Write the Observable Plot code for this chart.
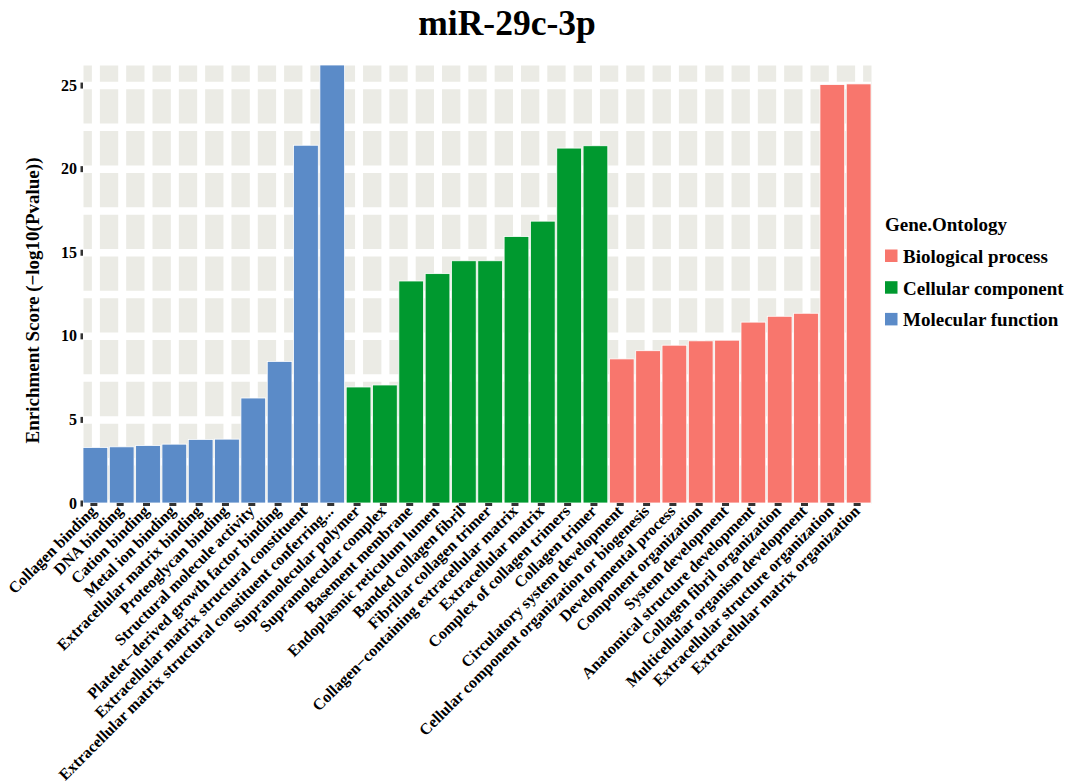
<!DOCTYPE html>
<html>
<head>
<meta charset="utf-8">
<script src="https://cdn.jsdelivr.net/npm/d3@7"></script>
<script src="https://cdn.jsdelivr.net/npm/@observablehq/plot@0.6"></script>
<style>
  body { margin: 0; background: #fff; }
  #wrap { position: relative; width: 1074px; height: 783px; }
  #wrap svg { font-family: "Liberation Serif", "Times New Roman", serif; font-weight: bold; }
  #legend { position: absolute; left: 0; top: 0; }
  [aria-label="x-axis tick"] { stroke: #333; stroke-width: 7px; }
  [aria-label="y-axis tick"] { stroke: #333; stroke-width: 6px; }
  [aria-label="x-axis tick label"], [aria-label="y-axis tick label"] { fill: #000; }
</style>
</head>
<body>
<div id="wrap"></div>
<script>
// ---- data ----
const chartTitle = "miR-29c-3p";
const yLabel = "Enrichment Score (−log10(Pvalue))";
const legendTitle = "Gene.Ontology";
const groupNames = ["Biological process", "Cellular component", "Molecular function"];
const groupColors = ["#F8766D", "#00992F", "#5B8BC8"];

const mfTerms = ["Collagen binding", "DNA binding", "Cation binding", "Metal ion binding",
  "Extracellular matrix binding", "Proteoglycan binding", "Structural molecule activity",
  "Platelet−derived growth factor binding", "Extracellular matrix structural constituent",
  "Extracellular matrix structural constituent conferring..."];
const mfValues = [3.32, 3.36, 3.44, 3.52, 3.80, 3.82, 6.28, 8.47, 21.4, 26.2];

const ccTerms = ["Supramolecular polymer", "Supramolecular complex", "Basement membrane",
  "Endoplasmic reticulum lumen", "Banded collagen fibril", "Fibrillar collagen trimer",
  "Collagen−containing extracellular matrix", "Extracellular matrix",
  "Complex of collagen trimers", "Collagen trimer"];
const ccValues = [6.94, 7.06, 13.28, 13.72, 14.49, 14.49, 15.94, 16.86, 21.23, 21.37];

const bpTerms = ["Circulatory system development", "Cellular component organization or biogenesis",
  "Developmental process", "Component organization", "System development",
  "Anatomical structure development", "Collagen fibril organization",
  "Multicellular organism development", "Extracellular structure organization",
  "Extracellular matrix organization"];
const bpValues = [8.62, 9.11, 9.44, 9.70, 9.74, 10.82, 11.17, 11.35, 25.03, 25.07];

const yTicks = [0, 5, 10, 15, 20, 25];
const yGrid = [0, 2.5, 5, 7.5, 10, 12.5, 15, 17.5, 20, 22.5, 25];
const yMax = 26.2;

// ---- table ----
const rows = [
  ...mfTerms.map((t, i) => ({term: t, value: mfValues[i], group: "Molecular function"})),
  ...ccTerms.map((t, i) => ({term: t, value: ccValues[i], group: "Cellular component"})),
  ...bpTerms.map((t, i) => ({term: t, value: bpValues[i], group: "Biological process"}))
];
const termOrder = rows.map(d => d.term);

const plot = Plot.plot({
  width: 1074,
  height: 783,
  marginLeft: 83,
  marginRight: 203,
  marginTop: 65,
  marginBottom: 280,
  style: {fontFamily: '"Liberation Serif", "Times New Roman", serif', fontWeight: "bold", fontSize: "16px", color: "#000"},
  x: {domain: termOrder, paddingInner: 0.06, paddingOuter: 0, round: false, label: null},
  y: {domain: [0, yMax], label: null},
  color: {domain: groupNames, range: groupColors},
  marks: [
    Plot.frame({fill: "#EBEBE5", stroke: null}),
    Plot.ruleY(yGrid, {stroke: "white", strokeWidth: 7.5}),
    Plot.ruleX(termOrder, {x: d => d, stroke: "white", strokeWidth: 8}),
    Plot.barY(rows, {x: "term", y: "value", fill: "group", stroke: "white", strokeWidth: 0.8, clip: true}),
    Plot.axisY({ticks: yTicks, tickSize: 2.5, tickPadding: 4, fontSize: 16, label: null}),
    Plot.axisX({tickRotate: -45, tickSize: 3, tickPadding: 2, fontSize: 16, dx: -2, label: null}),
    Plot.text([yLabel], {text: d => d, frameAnchor: "left", textAnchor: "middle", rotate: -90, dx: -51, dy: 16, fontSize: 19, fill: "#000"}),
    Plot.text([chartTitle], {text: d => d, frameAnchor: "top", dx: 29.5, dy: -31, lineAnchor: "bottom", fontSize: 35.5, fill: "#000"})
  ]
});
document.getElementById("wrap").appendChild(plot);

// ---- legend ----
const leg = d3.select("#wrap").append("svg")
  .attr("id", "legend").attr("width", 1074).attr("height", 783)
  .style("pointer-events", "none");
leg.append("text").attr("x", 885).attr("y", 231).attr("font-size", 19).attr("fill", "#000").text(legendTitle);
const items = leg.selectAll("g.item").data(groupNames).join("g")
  .attr("transform", (d, i) => `translate(885, ${249.5 + i * 31.7})`);
items.append("rect").attr("width", 12.5).attr("height", 12.5).attr("fill", (d, i) => groupColors[i]);
items.append("text").attr("x", 18).attr("y", 13.5).attr("font-size", 19).attr("fill", "#000").text(d => d);
</script>
</body>
</html>
